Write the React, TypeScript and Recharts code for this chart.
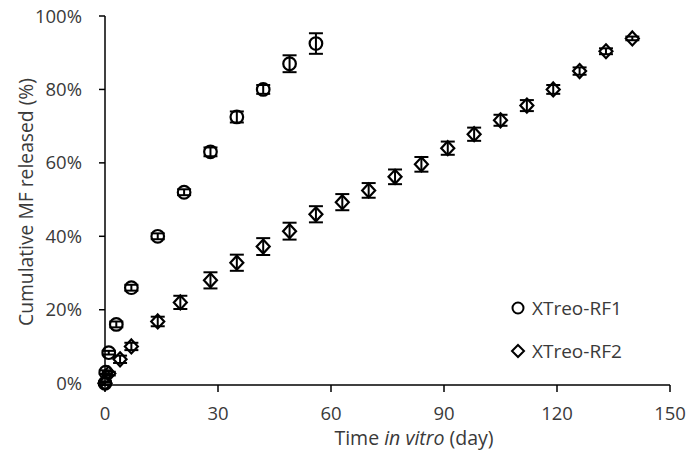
import { ScatterChart, Scatter, XAxis, YAxis, ErrorBar } from "recharts";

const rf1Days = [0, 0.2, 1, 3, 7, 14, 21, 28, 35, 42, 49, 56];
const rf1Release = [0, 3, 8.3, 16, 26, 40, 52, 63, 72.5, 80, 87, 92.5];
const rf1Err = [0.5, 0.5, 0.5, 0.8, 0.8, 0.8, 0.8, 1.2, 1.5, 1.2, 2.3, 2.8];

const rf2Days = [0, 1, 4, 7, 14, 20, 28, 35, 42, 49, 56, 63, 70, 77, 84, 91, 98, 105, 112, 119, 126, 133, 140];
const rf2Release = [0, 2.6, 6.5, 10, 16.8, 22, 28, 32.8, 37.2, 41.4, 46, 49.3, 52.5, 56.2, 59.6, 64, 67.8, 71.6, 75.6, 80, 85, 90.4, 93.9];
const rf2Err = [0.3, 0.5, 1, 1, 1.3, 1.8, 2.2, 2.2, 2.3, 2.3, 2.2, 2.2, 2, 2, 2, 1.8, 1.8, 1.5, 1.5, 1.2, 1, 0.8, 0.5];

const xTicks = [0, 30, 60, 90, 120, 150];
const yTicks = [0, 20, 40, 60, 80, 100];

const rf1 = rf1Days.map((d, i) => ({ x: d, y: rf1Release[i], err: rf1Err[i] }));
const rf2 = rf2Days.map((d, i) => ({ x: d, y: rf2Release[i], err: rf2Err[i] }));

const FONT = "'Open Sans', sans-serif";
const TEXT = "#3a3a3a";

const Circle = (props: any) => (
  <circle cx={props.cx} cy={props.cy} r={6.3} fill="none" stroke="#000" strokeWidth={2.2} />
);

const Diamond = (props: any) => {
  const { cx, cy } = props;
  return (
    <path
      d={`M${cx},${cy - 7} L${cx + 6.5},${cy} L${cx},${cy + 7} L${cx - 6.5},${cy} Z`}
      fill="none"
      stroke="#000"
      strokeWidth={2.2}
    />
  );
};

const textStyle = { fontFamily: FONT, color: TEXT, whiteSpace: "nowrap" as const };

export default function ReleaseChart() {
  return (
    <div style={{ position: "absolute", left: 0, top: 0, width: 691, height: 455, background: "#fff" }}>
      <ScatterChart width={691} height={455} margin={{ top: 16, right: 21, left: 0, bottom: 0 }}>
        <XAxis
          type="number"
          dataKey="x"
          domain={[0, 150]}
          ticks={xTicks}
          tickSize={7}
          tickMargin={15}
          axisLine={{ stroke: "#000", strokeWidth: 1.5 }}
          tickLine={{ stroke: "#000", strokeWidth: 1.5 }}
          tick={{ fill: TEXT, fontSize: 18.5, fontFamily: FONT }}
          height={70}
        />
        <YAxis
          type="number"
          dataKey="y"
          domain={[0, 100]}
          ticks={yTicks}
          tickFormatter={(v: number) => `${v}%`}
          tickSize={6}
          tickMargin={17}
          axisLine={{ stroke: "#000", strokeWidth: 1.5 }}
          tickLine={{ stroke: "#000", strokeWidth: 1.5 }}
          tick={{ fill: TEXT, fontSize: 18.5, fontFamily: FONT }}
          width={105}
        />
        <Scatter name="XTreo-RF1" data={rf1} shape={Circle} isAnimationActive={false}>
          <ErrorBar dataKey="err" direction="y" width={7} stroke="#000" strokeWidth={2} />
        </Scatter>
        <Scatter name="XTreo-RF2" data={rf2} shape={Diamond} isAnimationActive={false}>
          <ErrorBar dataKey="err" direction="y" width={7} stroke="#000" strokeWidth={2} />
        </Scatter>
      </ScatterChart>

      {/* axis titles */}
      <div
        style={{
          ...textStyle,
          position: "absolute",
          left: 25,
          top: 202,
          fontSize: 19.3,
          transform: "translate(-50%, -50%) rotate(-90deg)",
        }}
      >
        Cumulative MF released (%)
      </div>
      <div
        style={{
          ...textStyle,
          position: "absolute",
          left: 414,
          top: 437,
          fontSize: 19.5,
          transform: "translate(-50%, -50%)",
        }}
      >
        Time <i>in vitro</i> (day)
      </div>

      {/* legend */}
      <div style={{ ...textStyle, position: "absolute", left: 510, top: 296, fontSize: 19 }}>
        <div style={{ display: "flex", alignItems: "center", height: 24 }}>
          <svg width={22} height={18}>
            <circle cx={8} cy={9} r={5.5} fill="none" stroke="#000" strokeWidth={2} />
          </svg>
          <span>XTreo-RF1</span>
        </div>
        <div style={{ display: "flex", alignItems: "center", height: 24, marginTop: 19 }}>
          <svg width={22} height={18}>
            <path d="M8,3 L14,9 L8,15 L2,9 Z" fill="none" stroke="#000" strokeWidth={2} />
          </svg>
          <span>XTreo-RF2</span>
        </div>
      </div>
    </div>
  );
}
